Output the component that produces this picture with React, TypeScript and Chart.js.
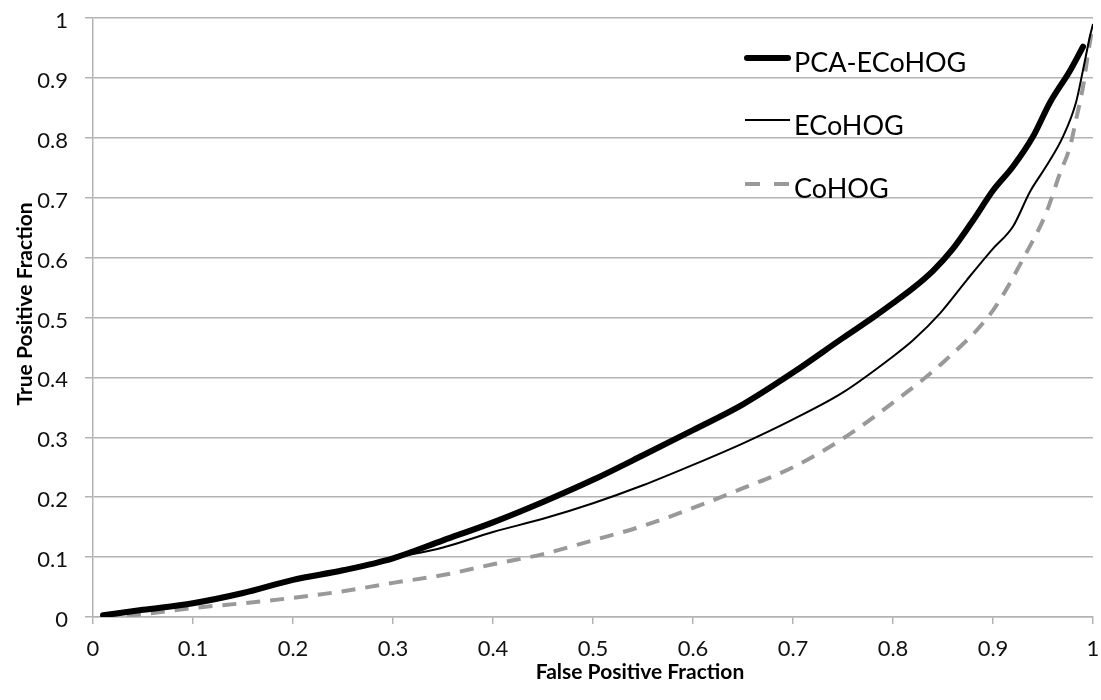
import React, { useEffect, useRef } from 'react';
import { Chart, registerables } from 'chart.js';

Chart.register(...registerables);

// ---- data ----
const seriesNames = ['PCA-ECoHOG', 'ECoHOG', 'CoHOG'];

const pcaFpr = [0.01, 0.05, 0.1, 0.15, 0.2, 0.25, 0.3, 0.35, 0.4, 0.45, 0.5, 0.55, 0.6, 0.65, 0.7, 0.75, 0.78, 0.8, 0.82, 0.84, 0.86, 0.88, 0.9, 0.92, 0.94, 0.957, 0.977, 0.99];
const pcaTpr = [0.003, 0.012, 0.023, 0.04, 0.062, 0.078, 0.098, 0.128, 0.158, 0.192, 0.229, 0.27, 0.312, 0.355, 0.408, 0.466, 0.5, 0.524, 0.549, 0.578, 0.615, 0.662, 0.712, 0.752, 0.802, 0.859, 0.912, 0.952];

const ecoFpr = [0.01, 0.05, 0.1, 0.15, 0.2, 0.25, 0.3, 0.35, 0.4, 0.45, 0.5, 0.55, 0.6, 0.65, 0.7, 0.75, 0.8, 0.82, 0.847, 0.874, 0.9, 0.92, 0.937, 0.953, 0.97, 0.983, 0.99, 0.997, 1.0];
const ecoTpr = [0.003, 0.012, 0.023, 0.04, 0.062, 0.078, 0.098, 0.116, 0.142, 0.164, 0.19, 0.22, 0.254, 0.29, 0.33, 0.375, 0.435, 0.462, 0.507, 0.563, 0.615, 0.652, 0.71, 0.752, 0.802, 0.859, 0.913, 0.97, 0.99];

const cohogFpr = [0.01, 0.05, 0.1, 0.15, 0.2, 0.25, 0.3, 0.35, 0.4, 0.45, 0.5, 0.55, 0.6, 0.65, 0.7, 0.75, 0.8, 0.85, 0.9, 0.933, 0.953, 0.967, 0.977, 0.983, 0.99, 0.995, 1.0];
const cohogTpr = [0.0, 0.005, 0.015, 0.023, 0.032, 0.043, 0.057, 0.07, 0.088, 0.105, 0.128, 0.152, 0.182, 0.215, 0.25, 0.298, 0.358, 0.425, 0.512, 0.607, 0.674, 0.741, 0.785, 0.83, 0.885, 0.94, 0.99];

const xTickLabels = ['0', '0.1', '0.2', '0.3', '0.4', '0.5', '0.6', '0.7', '0.8', '0.9', '1'];
const yTickLabels = ['0', '0.1', '0.2', '0.3', '0.4', '0.5', '0.6', '0.7', '0.8', '0.9', '1'];

const xAxisTitle = 'False Positive Fraction';
const yAxisTitle = 'True Positive Fraction';

const toPoints = (xs: number[], ys: number[]) => xs.map((x, i) => ({ x, y: ys[i] }));

const FONT = 'Lato, "Open Sans", sans-serif';
const GRID = '#b3b3b3';

const overlayPlugin = {
  id: 'overlay',
  afterDraw(chart: any) {
    const ctx = chart.ctx as CanvasRenderingContext2D;
    ctx.save();
    // legend inside the plot
    const lineY = [58, 120, 184];
    const textY = [72, 135, 198];
    chart.data.datasets.forEach((ds: any, i: number) => {
      ctx.beginPath();
      ctx.strokeStyle = ds.borderColor;
      ctx.lineWidth = ds.borderWidth;
      ctx.lineCap = ds.borderCapStyle || 'butt';
      ctx.setLineDash(ds.borderDash && ds.borderDash.length ? [15, 14] : []);
      const x0 = ds.borderCapStyle === 'round' ? 747 : 745;
      const x1 = ds.borderCapStyle === 'round' ? 788 : 790;
      ctx.moveTo(x0, lineY[i]);
      ctx.lineTo(x1, lineY[i]);
      ctx.stroke();
      ctx.setLineDash([]);
      ctx.fillStyle = '#000';
      ctx.font = `27px ${FONT}`;
      ctx.textAlign = 'left';
      ctx.textBaseline = 'alphabetic';
      ctx.fillText(ds.label, 794, textY[i]);
    });
    // axis titles
    ctx.fillStyle = '#000';
    ctx.font = `bold 21px ${FONT}`;
    ctx.textAlign = 'center';
    ctx.textBaseline = 'alphabetic';
    ctx.fillText(xAxisTitle, 640, 679);
    ctx.translate(32, 304);
    ctx.rotate(-Math.PI / 2);
    ctx.fillText(yAxisTitle, 0, 0);
    ctx.restore();
  },
};

export default function App() {
  const ref = useRef<HTMLCanvasElement | null>(null);

  useEffect(() => {
    if (!ref.current) return;
    const chart = new Chart(ref.current, {
      type: 'line',
      data: {
        datasets: [
          {
            label: seriesNames[0],
            data: toPoints(pcaFpr, pcaTpr),
            borderColor: '#000000',
            borderWidth: 6,
            borderCapStyle: 'round',
            borderJoinStyle: 'round',
            pointRadius: 0,
            cubicInterpolationMode: 'monotone',
            fill: false,
          },
          {
            label: seriesNames[1],
            data: toPoints(ecoFpr, ecoTpr),
            borderColor: '#000000',
            borderWidth: 2,
            pointRadius: 0,
            cubicInterpolationMode: 'monotone',
            fill: false,
          },
          {
            label: seriesNames[2],
            data: toPoints(cohogFpr, cohogTpr),
            borderColor: '#999999',
            borderWidth: 4,
            borderDash: [14, 10],
            pointRadius: 0,
            cubicInterpolationMode: 'monotone',
            fill: false,
          },
        ],
      } as any,
      options: {
        animation: false,
        responsive: true,
        maintainAspectRatio: false,
        layout: { padding: { top: 18, right: 8, left: 0, bottom: 0 } },
        plugins: {
          legend: { display: false },
          tooltip: { enabled: false },
          title: { display: false },
        },
        scales: {
          x: {
            type: 'linear',
            min: 0,
            max: 1,
            afterBuildTicks: (s: any) => {
              s.ticks = xTickLabels.map((_, i) => ({ value: i / 10 }));
            },
            afterFit: (s: any) => {
              s.height = 83;
              s.paddingLeft = 0;
              s.paddingRight = 0;
            },
            grid: {
              drawOnChartArea: false,
              drawTicks: true,
              tickLength: 7,
              color: GRID,
              lineWidth: 1.5,
            },
            border: { display: true, color: GRID, width: 1.5 },
            ticks: {
              font: { family: FONT, size: 22 },
              color: '#111',
              padding: 12,
              maxRotation: 0,
              autoSkip: false,
              callback: (_v: any, i: number) => xTickLabels[i],
            },
          },
          y: {
            type: 'linear',
            min: 0,
            max: 1,
            afterBuildTicks: (s: any) => {
              s.ticks = yTickLabels.map((_, i) => ({ value: i / 10 }));
            },
            afterFit: (s: any) => {
              s.width = 93;
              s.paddingTop = 0;
              s.paddingBottom = 0;
            },
            grid: {
              drawOnChartArea: true,
              drawTicks: true,
              tickLength: 8,
              color: GRID,
              lineWidth: 1.5,
            },
            border: { display: true, color: GRID, width: 1.5 },
            ticks: {
              font: { family: FONT, size: 22 },
              color: '#111',
              padding: 17,
              labelOffset: 3,
              autoSkip: false,
              callback: (_v: any, i: number) => yTickLabels[i],
            },
          },
        },
      } as any,
      plugins: [overlayPlugin],
    });
    return () => chart.destroy();
  }, []);

  return (
    <div style={{ position: 'fixed', left: 0, top: 0, width: 1101, height: 700, background: '#fff' }}>
      <canvas ref={ref} />
    </div>
  );
}
